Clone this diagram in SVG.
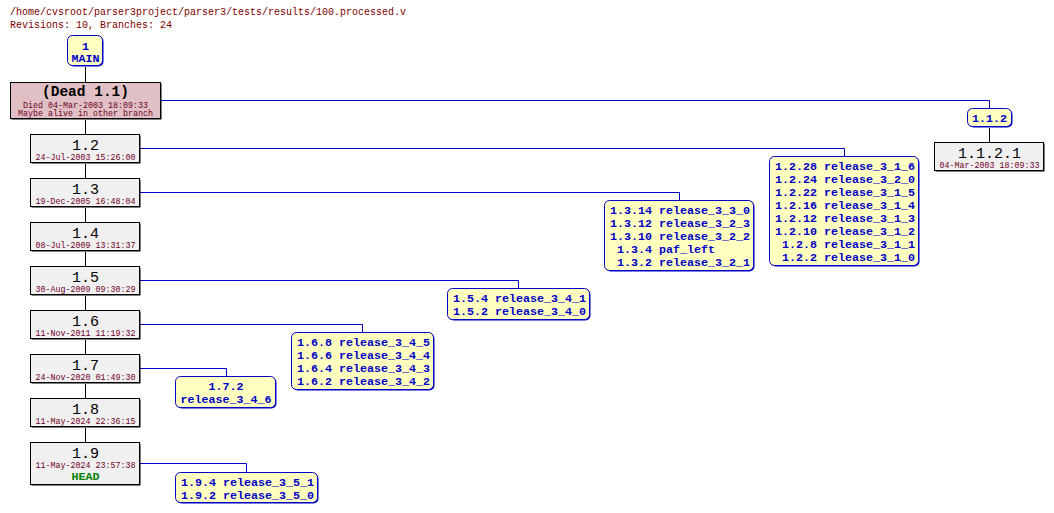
<svg xmlns="http://www.w3.org/2000/svg" width="1054" height="513" viewBox="0 0 1054 513">
<style>
.t{font-family:"Liberation Mono","DejaVu Sans Mono",monospace;}
.title{font-size:10px;fill:#800000;}
.rev{font-size:15px;fill:#000;text-anchor:middle;}
.date{font-size:8.33px;fill:#700028;text-anchor:middle;}
.tag{font-size:11.67px;font-weight:bold;fill:#0000c8;}
.mid{text-anchor:middle;}
.rbox{fill:#f0f0f0;stroke:#000;stroke-width:1;}
.dbox{fill:#e0c0c4;stroke:#000;stroke-width:1;}
.bbox{fill:#ffffc0;stroke:#0000c8;stroke-width:1;}
.sh{fill:#000;}
.bsh{fill:#0000c8;}
.trunk{stroke:#000;stroke-width:1;fill:none;}
.br{stroke:#0000c8;stroke-width:1;fill:none;}
</style>
<rect width="1054" height="513" fill="#fff"/>
<text class="t title" x="10" y="15">/home/cvsroot/parser3project/parser3/tests/results/100.processed.v</text>
<text class="t title" x="10" y="28">Revisions: 10, Branches: 24</text>

<g id="connectors">
<path class="trunk" d="M85.5 67V82M85.5 120V134M85.5 164V178M85.5 208V222M85.5 252V266M85.5 296V310M85.5 340V354M85.5 384V398M85.5 428V442"/>
<path class="trunk" d="M989.5 128V142"/>
<path class="br" d="M161 100.5H989.5V108"/>
<path class="br" d="M140 148.5H844.5V156"/>
<path class="br" d="M140 192.5H679.5V200"/>
<path class="br" d="M140 280.5H518.5V288"/>
<path class="br" d="M140 324.5H362.5V332"/>
<path class="br" d="M140 368.5H226.5V376"/>
<path class="br" d="M140 463.5H246.5V472"/>
</g>

<g id="main">
<rect class="bsh" x="68.5" y="36.5" width="35" height="30" rx="5"/>
<rect class="bbox" x="67.5" y="35.5" width="35" height="30" rx="5"/>
<text class="t tag mid" x="85.5" y="49.5">1</text>
<text class="t tag mid" x="85.5" y="61.5">MAIN</text>
</g>

<g id="r1.1">
<rect class="sh" x="11.5" y="83.5" width="150" height="36"/>
<rect class="dbox" x="10.5" y="82.5" width="150" height="36"/>
<text class="t rev" x="85.5" y="96" style="font-size:14.5px;font-weight:bold">(Dead 1.1)</text>
<text class="t date" x="85.5" y="107.5">Died 04-Mar-2003 18:09:33</text>
<text class="t date" x="85.5" y="115.5">Maybe alive in other branch</text>
</g>

<g id="r1.2">
<rect class="sh" x="31.5" y="135.5" width="109" height="28"/>
<rect class="rbox" x="30.5" y="134.5" width="109" height="28"/>
<text class="t rev" x="85.5" y="149.5">1.2</text>
<text class="t date" x="85.5" y="160">24-Jul-2003 15:26:00</text>
</g>
<g id="r1.3">
<rect class="sh" x="31.5" y="179.5" width="109" height="28"/>
<rect class="rbox" x="30.5" y="178.5" width="109" height="28"/>
<text class="t rev" x="85.5" y="193.5">1.3</text>
<text class="t date" x="85.5" y="204">19-Dec-2005 16:48:04</text>
</g>
<g id="r1.4">
<rect class="sh" x="31.5" y="223.5" width="109" height="28"/>
<rect class="rbox" x="30.5" y="222.5" width="109" height="28"/>
<text class="t rev" x="85.5" y="237.5">1.4</text>
<text class="t date" x="85.5" y="248">08-Jul-2009 13:31:37</text>
</g>
<g id="r1.5">
<rect class="sh" x="31.5" y="267.5" width="109" height="28"/>
<rect class="rbox" x="30.5" y="266.5" width="109" height="28"/>
<text class="t rev" x="85.5" y="281.5">1.5</text>
<text class="t date" x="85.5" y="292">30-Aug-2009 09:30:29</text>
</g>
<g id="r1.6">
<rect class="sh" x="31.5" y="311.5" width="109" height="28"/>
<rect class="rbox" x="30.5" y="310.5" width="109" height="28"/>
<text class="t rev" x="85.5" y="325.5">1.6</text>
<text class="t date" x="85.5" y="336">11-Nov-2011 11:19:32</text>
</g>
<g id="r1.7">
<rect class="sh" x="31.5" y="355.5" width="109" height="28"/>
<rect class="rbox" x="30.5" y="354.5" width="109" height="28"/>
<text class="t rev" x="85.5" y="369.5">1.7</text>
<text class="t date" x="85.5" y="380">24-Nov-2020 01:49:30</text>
</g>
<g id="r1.8">
<rect class="sh" x="31.5" y="399.5" width="109" height="28"/>
<rect class="rbox" x="30.5" y="398.5" width="109" height="28"/>
<text class="t rev" x="85.5" y="413.5">1.8</text>
<text class="t date" x="85.5" y="424">11-May-2024 22:36:15</text>
</g>
<g id="r1.9">
<rect class="sh" x="31.5" y="443.5" width="109" height="42"/>
<rect class="rbox" x="30.5" y="442.5" width="109" height="42"/>
<text class="t rev" x="85.5" y="457.5">1.9</text>
<text class="t date" x="85.5" y="468">11-May-2024 23:57:38</text>
<text class="t tag mid" x="85.5" y="479.5" style="fill:#008000">HEAD</text>
</g>

<g id="b1.1.2">
<rect class="bsh" x="968.5" y="109.5" width="44" height="18" rx="5"/>
<rect class="bbox" x="967.5" y="108.5" width="44" height="18" rx="5"/>
<text class="t tag mid" x="989.5" y="122">1.1.2</text>
</g>
<g id="r1.1.2.1">
<rect class="sh" x="935.5" y="143.5" width="109" height="28"/>
<rect class="rbox" x="934.5" y="142.5" width="109" height="28"/>
<text class="t rev" x="989.5" y="157.5">1.1.2.1</text>
<text class="t date" x="989.5" y="168">04-Mar-2003 18:09:33</text>
</g>

<g id="b1.2">
<rect class="bsh" x="770.5" y="157.5" width="149" height="109" rx="5"/>
<rect class="bbox" x="769.5" y="156.5" width="149" height="109" rx="5"/>
<text class="t tag" x="775" y="170">1.2.28 release_3_1_6</text>
<text class="t tag" x="775" y="183">1.2.24 release_3_2_0</text>
<text class="t tag" x="775" y="196">1.2.22 release_3_1_5</text>
<text class="t tag" x="775" y="209">1.2.16 release_3_1_4</text>
<text class="t tag" x="775" y="222">1.2.12 release_3_1_3</text>
<text class="t tag" x="775" y="235">1.2.10 release_3_1_2</text>
<text class="t tag" x="782" y="248">1.2.8 release_3_1_1</text>
<text class="t tag" x="782" y="261">1.2.2 release_3_1_0</text>
</g>

<g id="b1.3">
<rect class="bsh" x="605.5" y="201.5" width="149" height="70" rx="5"/>
<rect class="bbox" x="604.5" y="200.5" width="149" height="70" rx="5"/>
<text class="t tag" x="610" y="214">1.3.14 release_3_3_0</text>
<text class="t tag" x="610" y="227">1.3.12 release_3_2_3</text>
<text class="t tag" x="610" y="240">1.3.10 release_3_2_2</text>
<text class="t tag" x="617" y="253">1.3.4 paf_left</text>
<text class="t tag" x="617" y="266">1.3.2 release_3_2_1</text>
</g>

<g id="b1.5">
<rect class="bsh" x="448.5" y="289.5" width="142" height="31" rx="5"/>
<rect class="bbox" x="447.5" y="288.5" width="142" height="31" rx="5"/>
<text class="t tag" x="453" y="302">1.5.4 release_3_4_1</text>
<text class="t tag" x="453" y="315">1.5.2 release_3_4_0</text>
</g>

<g id="b1.6">
<rect class="bsh" x="292.5" y="333.5" width="142" height="57" rx="5"/>
<rect class="bbox" x="291.5" y="332.5" width="142" height="57" rx="5"/>
<text class="t tag" x="297" y="346">1.6.8 release_3_4_5</text>
<text class="t tag" x="297" y="359">1.6.6 release_3_4_4</text>
<text class="t tag" x="297" y="372">1.6.4 release_3_4_3</text>
<text class="t tag" x="297" y="385">1.6.2 release_3_4_2</text>
</g>

<g id="b1.7.2">
<rect class="bsh" x="176.5" y="377.5" width="100" height="31" rx="5"/>
<rect class="bbox" x="175.5" y="376.5" width="100" height="31" rx="5"/>
<text class="t tag mid" x="226" y="390">1.7.2</text>
<text class="t tag mid" x="226" y="403">release_3_4_6</text>
</g>

<g id="b1.9">
<rect class="bsh" x="176.5" y="473.5" width="142" height="30" rx="5"/>
<rect class="bbox" x="175.5" y="472.5" width="142" height="30" rx="5"/>
<text class="t tag" x="181" y="485.5">1.9.4 release_3_5_1</text>
<text class="t tag" x="181" y="498.5">1.9.2 release_3_5_0</text>
</g>
</svg>
